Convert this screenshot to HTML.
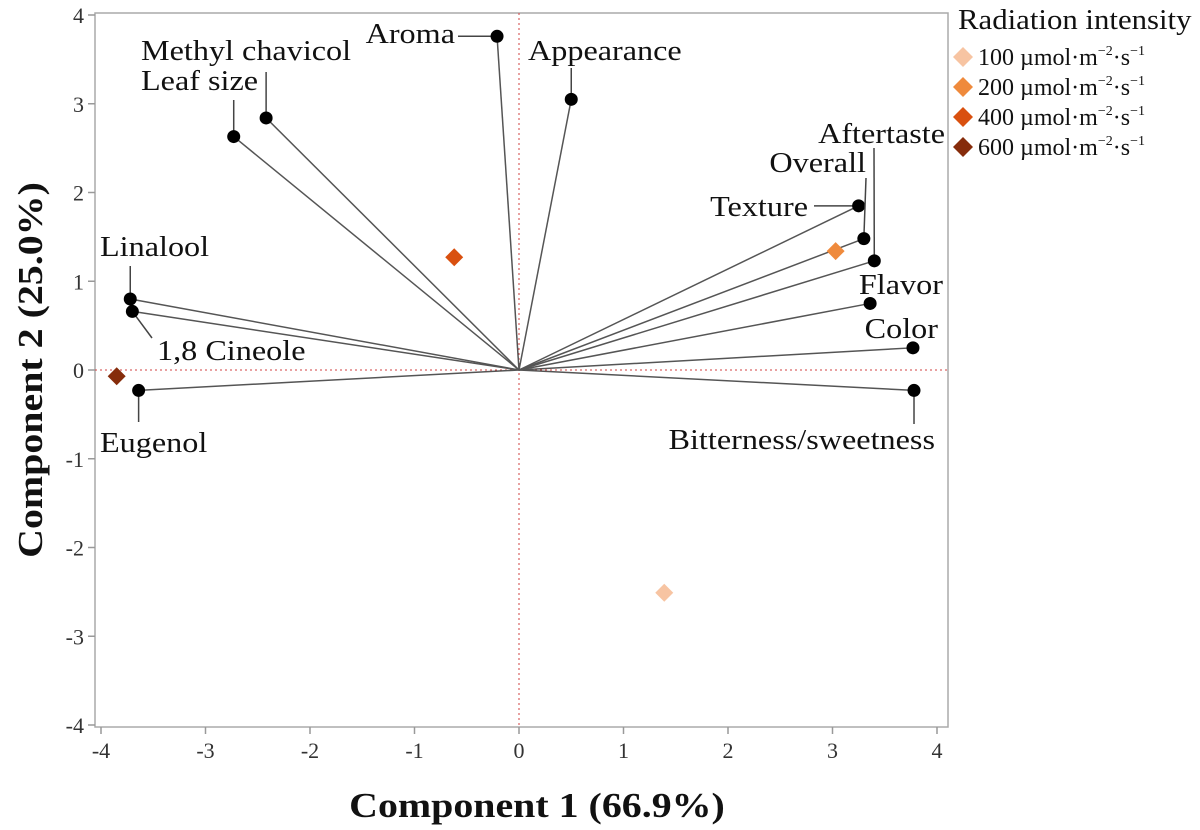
<!DOCTYPE html>
<html><head><meta charset="utf-8"><style>
html,body{margin:0;padding:0;background:#fff;}
svg{display:block;font-family:"Liberation Serif",serif;}
</style></head><body>
<svg id="chart" width="1200" height="830" viewBox="0 0 1200 830"></svg>
<script>
const loadNames=["Aroma","Appearance","Methyl chavicol","Leaf size","Linalool","1,8 Cineole","Eugenol","Texture","Overall","Aftertaste","Flavor","Color","Bitterness/sweetness"];
const loadX=[-0.21,0.50,-2.42,-2.73,-3.72,-3.70,-3.64,3.25,3.30,3.40,3.36,3.77,3.78];
const loadY=[3.76,3.05,2.84,2.63,0.80,0.66,-0.23,1.85,1.48,1.23,0.75,0.25,-0.23];
const scoreNames=["100 µmol·m⁻²·s⁻¹","200 µmol·m⁻²·s⁻¹","400 µmol·m⁻²·s⁻¹","600 µmol·m⁻²·s⁻¹"];
const scoreX=[1.39,3.03,-0.62,-3.85];
const scoreY=[-2.51,1.34,1.27,-0.07];
const scoreColors=["#f7c4a2","#ef8a3c","#d9500f","#862c0b"];
const xTicks=[-4,-3,-2,-1,0,1,2,3,4];
const yTicks=[-4,-3,-2,-1,0,1,2,3,4];

const NS="http://www.w3.org/2000/svg";
const svg=document.getElementById('chart');
const sx=v=>519+v*104.5;
const sy=v=>370-v*88.75;
function mk(tag,attrs,parent){const e=document.createElementNS(NS,tag);for(const k in attrs)e.setAttribute(k,attrs[k]);(parent||svg).appendChild(e);return e;}
function stretch(t,k){const w=t.getComputedTextLength();t.setAttribute('textLength',(w*k).toFixed(1));t.setAttribute('lengthAdjust','spacingAndGlyphs');}

let f=mk('rect',{x:95,y:13,width:853,height:714,fill:'none',stroke:'#aaa','stroke-width':1.5});


let rv=mk('line',{x1:sx(0),y1:13,x2:sx(0),y2:727,stroke:'#d04040','stroke-width':1,'stroke-dasharray':'2,3'});


let rh=mk('line',{x1:95,y1:sy(0),x2:948,y2:sy(0),stroke:'#d04040','stroke-width':1,'stroke-dasharray':'2,3'});



xTicks.forEach(t=>{
  let l=mk('line',{x1:sx(t),y1:727,x2:sx(t),y2:734,stroke:'#999','stroke-width':1.5});
  
  
  let tx=mk('text',{x:sx(t),y:758,'text-anchor':'middle','font-size':22,fill:'#333'});
  tx.textContent=t;
  
  
});
yTicks.forEach(t=>{
  let l=mk('line',{x1:88,y1:sy(t),x2:95,y2:sy(t),stroke:'#999','stroke-width':1.5});
  
  
  let tx=mk('text',{x:84,y:sy(t)+8,'text-anchor':'end','font-size':22,fill:'#333'});
  tx.textContent=t;
  
  
});

loadX.forEach((v,i)=>{
  let l=mk('line',{x1:sx(0),y1:sy(0),x2:sx(v),y2:sy(loadY[i]),stroke:'#555','stroke-width':1.5});
  
  
});
const lab=[
 [455,43,'end',(px,py)=>`M458,${py} L${px},${py}`],
 [528,60,'start',(px,py)=>`M${px},68 L${px},${py}`],
 [141,60,'start',(px,py)=>`M${px},72 L${px},${py}`],
 [141,90,'start',(px,py)=>`M${px},100 L${px},${py}`],
 [100,256,'start',(px,py)=>`M${px},266 L${px},${py}`],
 [157,360,'start',(px,py)=>`M152,338 L${px},${py}`],
 [100,452,'start',(px,py)=>`M${px},422 L${px},${py}`],
 [808,216,'end',(px,py)=>`M814,${py} L${px},${py}`],
 [866,172,'end',(px,py)=>`M866,178 L${px},${py}`],
 [945,143,'end',(px,py)=>`M874,148 L${px},${py}`],
 [943,294,'end',null],
 [938,338,'end',null],
 [935,449,'end',(px,py)=>`M${px},424 L${px},${py}`]
];
loadX.forEach((v,i)=>{
  const px=sx(v),py=sy(loadY[i]);const L=lab[i];
  if(L[3]){let p=mk('path',{d:L[3](px,py),stroke:'#444','stroke-width':1.5,fill:'none'});
    
    }
  let c=mk('circle',{cx:px,cy:py,r:6.5,fill:'#000'});
  
  
  let t=mk('text',{x:L[0],y:L[1],'text-anchor':L[2],'font-size':28,fill:'#111'});
  t.textContent=loadNames[i];
  
  
  stretch(t,1.15);
});
scoreX.forEach((v,i)=>{
  const px=sx(v),py=sy(scoreY[i]);
  let d=mk('path',{d:`M${px},${py-9} L${px+9},${py} L${px},${py+9} L${px-9},${py} Z`,fill:scoreColors[i]});
  
  
});
let xt=mk('text',{x:537,y:817,'text-anchor':'middle','font-size':35,'font-weight':'bold',fill:'#111'});
xt.textContent='Component 1 (66.9%)';


stretch(xt,1.14);
let yt=mk('text',{x:0,y:0,'text-anchor':'middle','font-size':35,'font-weight':'bold',fill:'#111',transform:'translate(42,370) rotate(-90)'});
yt.textContent='Component 2 (25.0%)';


stretch(yt,1.14);
let lt=mk('text',{x:958,y:29,'font-size':28,fill:'#111'});
lt.textContent='Radiation intensity';


stretch(lt,1.1);
scoreNames.forEach((n,i)=>{
  const y=57+i*30,x=963;
  let g=mk('g',{});
  
  
  mk('path',{d:`M${x},${y-10} L${x+10},${y} L${x},${y+10} L${x-10},${y} Z`,fill:scoreColors[i]},g);
  let t=mk('text',{x:978,y:y+8,'font-size':24,fill:'#111'},g);
  t.innerHTML=n.replace('m⁻²·s⁻¹','m<tspan font-size="14" dy="-10">−2</tspan><tspan dy="10">·s</tspan><tspan font-size="14" dy="-10">−1</tspan>');
});
</script>
</body></html>
